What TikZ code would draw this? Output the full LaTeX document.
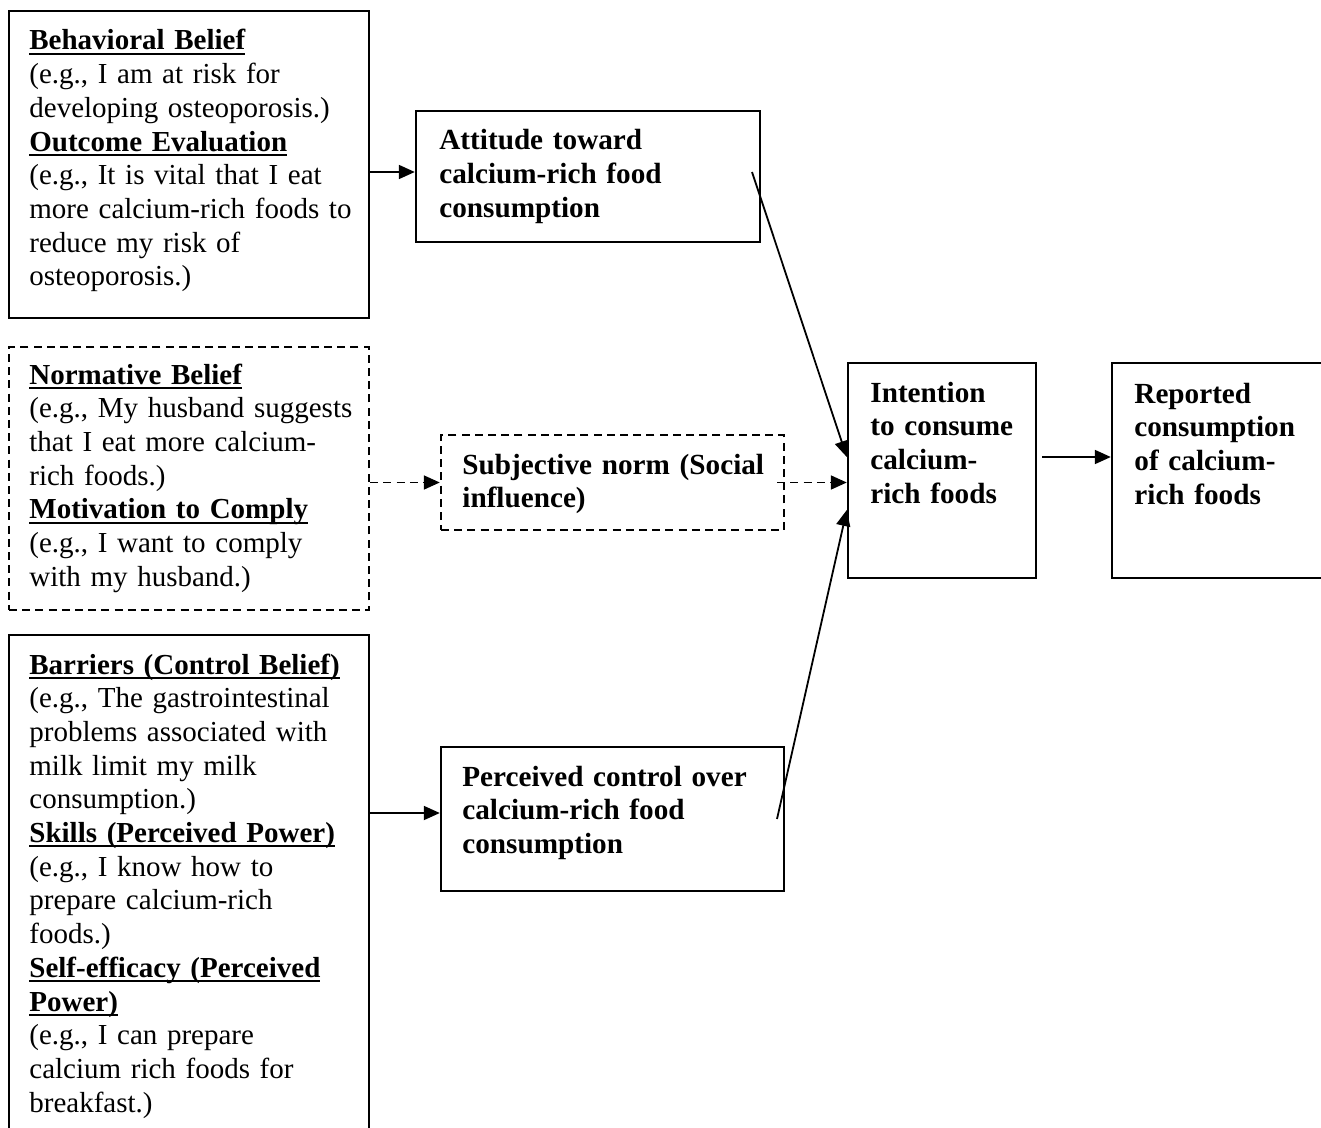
\documentclass[tikz,border=0pt]{standalone}
\usepackage{fontspec}
\setmainfont{Liberation Serif}
\usetikzlibrary{arrows.meta,fit}

% bold heading with a solid underline
\newcommand\ulhead[1]{\leavevmode\setbox0\hbox{\bfseries #1}\rlap{\rule[-2.4pt]{\wd0}{1.05pt}}\box0}

\tikzset{
  box/.style={draw=black, line width=1.2pt, inner sep=0pt, fit={#1}},
  dbox/.style={box={#1}, dash pattern=on 4pt off 2.6pt},
  txt/.style={anchor=base west, inner sep=0pt, align=left, text width=200pt,
    font=\fontsize{14.5pt}{16.85pt}\selectfont},
  btxt/.style={txt, font=\fontsize{14.6pt}{16.85pt}\selectfont\bfseries},
  arr/.style={line width=0.9pt, -{Triangle[length=8pt,width=7pt]}},
  darr/.style={arr, dash pattern=on 4pt off 2.6pt},
}

\begin{document}
\begin{tikzpicture}[x=0.5pt,y=-0.5pt]
\useasboundingbox (0,0) rectangle (1321,1128);
\clip (0,0) rectangle (1321,1128);

% belief boxes on the left
\node[box={(9,11) (369,318)}] (beh) {};
\node[txt] (behtxt) at (29,50) {\ulhead{Behavioral Belief}\\
(e.g., I am at risk for\\
developing osteoporosis.)\\
\ulhead{Outcome Evaluation}\\
(e.g., It is vital that I eat\\
more calcium-rich foods to\\
reduce my risk of\\
osteoporosis.)};

\node[dbox={(9,347) (369,610)}] (norm) {};
\node[txt] (normtxt) at (29,384) {\ulhead{Normative Belief}\\
(e.g., My husband suggests\\
that I eat more calcium-\\
rich foods.)\\
\ulhead{Motivation to Comply}\\
(e.g., I want to comply\\
with my husband.)};

\node[box={(9,635) (369,1150)}] (bar) {};
\node[txt] (bartxt) at (29,674) {\ulhead{Barriers (Control Belief)}\\
(e.g., The gastrointestinal\\
problems associated with\\
milk limit my milk\\
consumption.)\\
\ulhead{Skills (Perceived Power)}\\
(e.g., I know how to\\
prepare calcium-rich\\
foods.)\\
\ulhead{Self-efficacy (Perceived}\\
\ulhead{Power)}\\
(e.g., I can prepare\\
calcium rich foods for\\
breakfast.)};

% construct boxes in the middle
\node[box={(416,111) (760,242)}] (att) {};
\node[btxt] (atttxt) at (439,150) {Attitude toward\\calcium-rich food\\consumption};

\node[dbox={(441,435) (784,530)}] (subj) {};
\node[btxt] (subjtxt) at (462,474) {Subjective norm (Social\\influence)};

\node[box={(441,747) (784,891)}] (pbc) {};
\node[btxt] (pbctxt) at (462,786) {Perceived control over\\calcium-rich food\\consumption};

% intention and behaviour
\node[box={(848,363) (1036,578)}] (int) {};
\node[btxt] (inttxt) at (870,402) {Intention\\to consume\\calcium-\\rich foods};

\node[box={(1112,363) (1340,578)}] (rep) {};
\node[btxt] (reptxt) at (1134,403) {Reported\\consumption\\of calcium-\\rich foods};

% connectors
\coordinate (attout) at (752,172);
\coordinate (pbcout) at (777,819);

\draw[arr] ([yshift=2.25pt]beh.east |- att.west) -- ([yshift=2.25pt]att.west);
\draw[darr] (norm.east |- subj.west) -- (subj.west);
\draw[arr] ([yshift=3pt]bar.east |- pbc.west) -- ([yshift=3pt]pbc.west);

\draw[arr] (attout) -- ([yshift=6.75pt]int.west);
\draw[darr] ([xshift=-4pt]subj.east) -- (int.west |- subj.east);
\draw[arr] (pbcout) -- ([yshift=-19.75pt]int.west);

\draw[arr] ([xshift=2.5pt,yshift=6.75pt]int.east) -- ([yshift=6.75pt]int.east -| rep.west);
\end{tikzpicture}
\end{document}
